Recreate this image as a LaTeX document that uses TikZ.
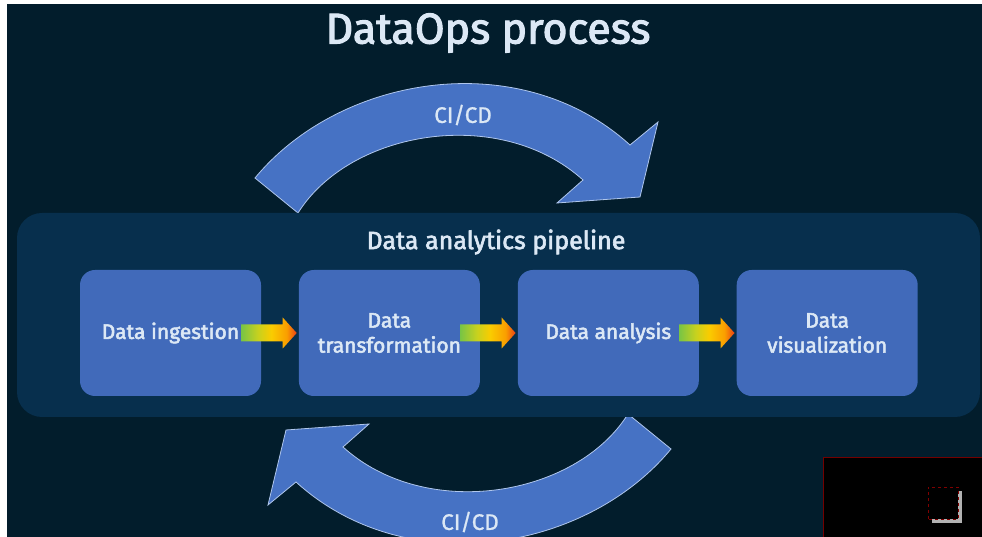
\documentclass[tikz,border=0pt]{standalone}
\usepackage{fontspec}
\setmainfont{Fira Sans}[FakeBold=2.5]
\newfontfamily\plainfont{Fira Sans}[FakeBold=1]
\usetikzlibrary{calc, positioning}
\definecolor{nightblue}{RGB}{2,29,44}
\definecolor{panelblue}{RGB}{7,47,77}
\definecolor{boxblue}{RGB}{65,106,186}
\definecolor{arcblue}{RGB}{70,114,196}
\definecolor{arcedge}{RGB}{175,198,236}
\definecolor{paletext}{RGB}{220,232,245}
\pgfdeclarehorizontalshading{flowshade}{100bp}{
    rgb(0bp)=(0.47,0.77,0.27); rgb(25bp)=(0.47,0.77,0.27);
    rgb(40bp)=(0.78,0.82,0.12); rgb(52bp)=(0.98,0.80,0);
    rgb(66bp)=(0.98,0.62,0); rgb(75bp)=(0.92,0.25,0.08); rgb(100bp)=(0.92,0.25,0.08)}

\begin{document}
\begin{tikzpicture}[x=1pt, y=1pt,
    stagebox/.style={fill=boxblue, rounded corners=15pt, minimum width=181pt,
        minimum height=126pt, inner sep=0pt, align=center, text=paletext,
        font=\fontsize{21}{25}\selectfont},
    panel/.style={fill=panelblue, rounded corners=25pt, minimum width=963pt,
        minimum height=204pt, inner sep=0pt},
    loop arrow/.style={fill=arcblue, draw=arcedge, line width=0.8pt, line join=miter},
    flow arrow/.style={shading=flowshade},
    caption/.style={text=paletext, font=\fontsize{25}{29}\selectfont}]
    % Page and background
    \useasboundingbox[fill=white] (0,0) rectangle (982,537);
    \clip (0,0) rectangle (982,537);
    \fill[nightblue] (7,-1) rectangle (983,533);

    % Title
    \node[text=paletext, font=\fontsize{43}{48}\selectfont] (title) at (488,504) {DataOps process};

    % CI/CD loops
    \foreach \turn in {0,180} {
        \begin{scope}[rotate around={\turn:(463,223.5)}]
            \filldraw[loop arrow] (255,359) .. controls (340,462) and (520,492) .. (630,392)
                -- (658,415) -- (640,340) -- (557,334) -- (583,357)
                .. controls (500,432) and (350,407) .. (298,324) -- cycle;
        \end{scope}
    }
    \node[caption, font=\plainfont\fontsize{22.5}{26}\selectfont] (citop) at (463,422) {CI/CD};
    \node[caption, font=\plainfont\fontsize{22.5}{26}\selectfont] (cibot) at (470,15) {CI/CD};

    % Pipeline panel
    \node[panel] (pipe) at (498.5,222) {};
    \node[caption] (pipetitle) at (496,295) {Data analytics pipeline};

    % Stages
    \node[stagebox] (ingest) at (170.5,204) {Data ingestion};
    \node[stagebox, right=37.5pt of ingest] (transform) {Data\\transformation};
    \node[stagebox, right=37.5pt of transform] (analysis) {Data analysis};
    \node[stagebox, right=37.5pt of analysis] (visual) {Data\\visualization};

    % Flow arrows
    \foreach \a/\b in {ingest/transform, transform/analysis, analysis/visual} {
        \shade[flow arrow] ($(\a.east)+(-20,-8.5)$) -- ($(\b.west)+(-16,-8.5)$)
            -- ($(\b.west)+(-16,-15.5)$) -- ($(\b.west)+(-2,0)$)
            -- ($(\b.west)+(-16,15.5)$) -- ($(\b.west)+(-16,8.5)$)
            -- ($(\a.east)+(-20,8.5)$) -- cycle;
    }

    % Camera overlay
    \filldraw[black, draw=red!45!black] (823,-1) rectangle (983,80);
    \fill[gray!60] (932,14) rectangle (962,46);
    \draw[red!50!black, dashed, fill=black] (928,18) rectangle (958,50);
\end{tikzpicture}
\end{document}
